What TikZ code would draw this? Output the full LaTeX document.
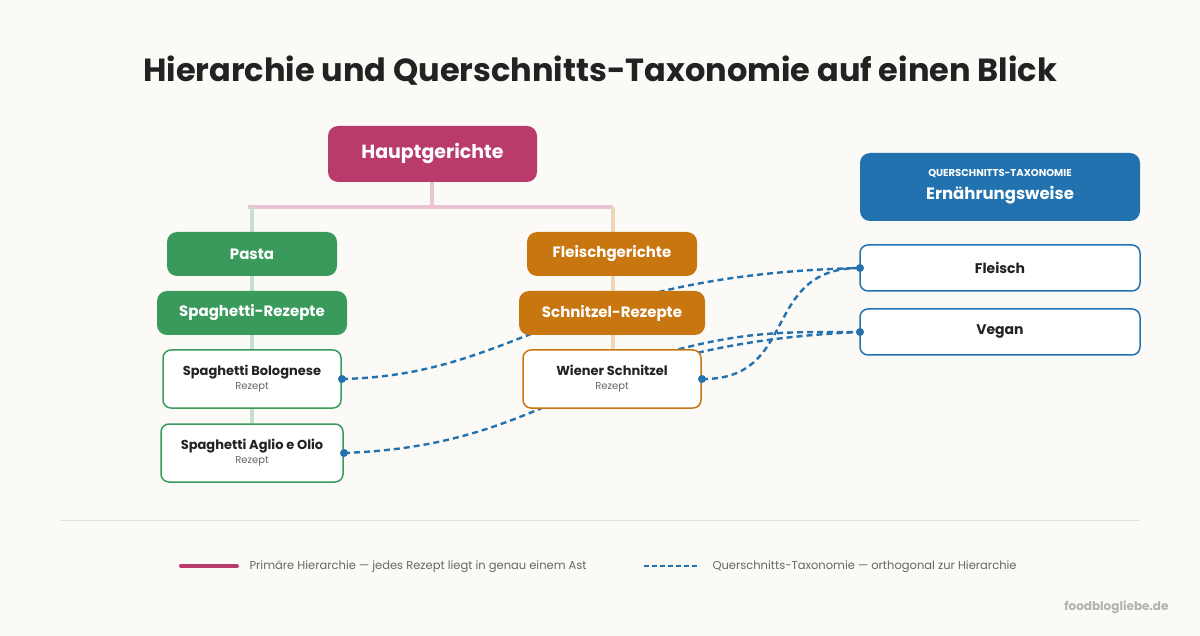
\documentclass[tikz,border=0pt]{standalone}
\usepackage{fontspec}
\setmainfont{Poppins}
\usetikzlibrary{calc}
\definecolor{bg}{HTML}{FCFAF6}
\definecolor{hg}{HTML}{B83B6B}
\definecolor{gr}{HTML}{3A9A5C}
\definecolor{or}{HTML}{C8760F}
\definecolor{bl}{HTML}{2272B0}
\definecolor{tx}{HTML}{222222}
\begin{document}
\begin{tikzpicture}[x=1pt,y=-1pt,
  box/.style={rounded corners=10pt,inner sep=0pt,font=\bfseries\fontsize{15}{18}\selectfont,text=white},
  leaf/.style={rounded corners=8pt,inner sep=0pt,fill=white,line width=1.5pt,align=center},
  tag/.style={rounded corners=8pt,inner sep=0pt,fill=white,draw=bl,line width=1.5pt,font=\bfseries\fontsize{14}{16}\selectfont,text=tx},
  conn/.style={bl,dash pattern=on 6pt off 4pt,line width=2.4pt},
  dot/.style={circle,fill=bl,inner sep=0pt,minimum size=8pt}]
\fill[bg] (0,0) rectangle (1200,636);
\useasboundingbox (0,0) rectangle (1200,636);
\node[font=\bfseries\fontsize{32}{36}\selectfont,text=tx] (title) at (600,71) {Hierarchie und Querschnitts-Taxonomie auf einen Blick};
% tree lines
\draw[line width=4pt,hg!30] (432,181) -- (432,207) (248,207) -- (613,207);
\draw[line width=4pt,gr!30] (252,207) -- (252,424);
\draw[line width=4pt,or!30] (613,207) -- (613,350);
% coordinates
\coordinate (bolE) at (342,379);
\coordinate (agE) at (344,453);
\coordinate (wiE) at (702,379);
\coordinate (wiC) at (640,360);
\coordinate (flW) at (860,268);
\coordinate (veW) at (860,332);
\draw[conn] (bolE) .. controls (520,375) and (560,275) .. (flW);
\draw[conn] (agE) .. controls (560,445) and (570,345) .. (veW);
\draw[conn] (wiC) .. controls (740,330) and (780,332) .. (veW);
\draw[conn] (wiE) .. controls (800,380) and (760,268) .. (flW);
% boxes
\node[box,fill=hg,minimum width=209pt,minimum height=56pt,font=\bfseries\fontsize{19}{20}\selectfont] (hg) at (432.5,154) {Hauptgerichte};
\node[box,fill=gr,minimum width=170pt,minimum height=44pt] (pasta) at (252,254) {Pasta};
\node[box,fill=gr,minimum width=190pt,minimum height=44pt] (spr) at (252,313) {Spaghetti-Rezepte};
\node[leaf,draw=gr,minimum width=178pt,minimum height=58pt] (bol) at (252,379) {{\bfseries\fontsize{13}{15}\selectfont\color{tx}Spaghetti Bolognese}\\[2pt]{\fontsize{10}{12}\selectfont\color{black!60}Rezept}};
\node[leaf,draw=gr,minimum width=182pt,minimum height=58pt] (ag) at (252,453) {{\bfseries\fontsize{13}{15}\selectfont\color{tx}Spaghetti Aglio e Olio}\\[2pt]{\fontsize{10}{12}\selectfont\color{black!60}Rezept}};
\node[box,fill=or,minimum width=170pt,minimum height=44pt] (fl) at (612,254) {Fleischgerichte};
\node[box,fill=or,minimum width=186pt,minimum height=44pt] (sr) at (612,313) {Schnitzel-Rezepte};
\node[leaf,draw=or,minimum width=178pt,minimum height=58pt] (wi) at (612,379) {{\bfseries\fontsize{13}{15}\selectfont\color{tx}Wiener Schnitzel}\\[2pt]{\fontsize{10}{12}\selectfont\color{black!60}Rezept}};
\node[box,fill=bl,minimum width=280pt,minimum height=68pt,align=center] (ew) at (1000,187) {{\fontsize{10}{12}\selectfont QUERSCHNITTS-TAXONOMIE}\\[5pt]{\fontsize{16.5}{18}\selectfont Ernährungsweise}};
\node[tag,minimum width=280pt,minimum height=46pt] (fleisch) at (1000,268) {Fleisch};
\node[tag,minimum width=280pt,minimum height=46pt] (vegan) at (1000,332) {Vegan};
\node[dot] at (bolE) {};
\node[dot] at (agE) {};
\node[dot] at (wiE) {};
\node[dot] at (flW) {};
\node[dot] at (veW) {};
% separator & legend
\draw[black!12,line width=1pt] (60,520) -- (1140,520);
\coordinate (l1a) at (181,566); \coordinate (l1b) at (237,566);
\coordinate (l2a) at (644,566); \coordinate (l2b) at (700,566);
\draw[hg,line width=4pt,line cap=round] (l1a) -- (l1b);
\draw[bl,line width=2.5pt,dash pattern=on 5pt off 3pt] (l2a) -- (l2b);
\node[anchor=west,font=\fontsize{11.5}{14}\selectfont,text=black!60] (lt1) at (246,567) {Primäre Hierarchie — jedes Rezept liegt in genau einem Ast};
\node[anchor=west,font=\fontsize{11.5}{14}\selectfont,text=black!60] (lt2) at (709,567) {Querschnitts-Taxonomie — orthogonal zur Hierarchie};
\node[anchor=east,font=\bfseries\fontsize{12}{14}\selectfont,text=black!30] (wm) at (1172,607) {foodblogliebe.de};
\end{tikzpicture}
\end{document}
